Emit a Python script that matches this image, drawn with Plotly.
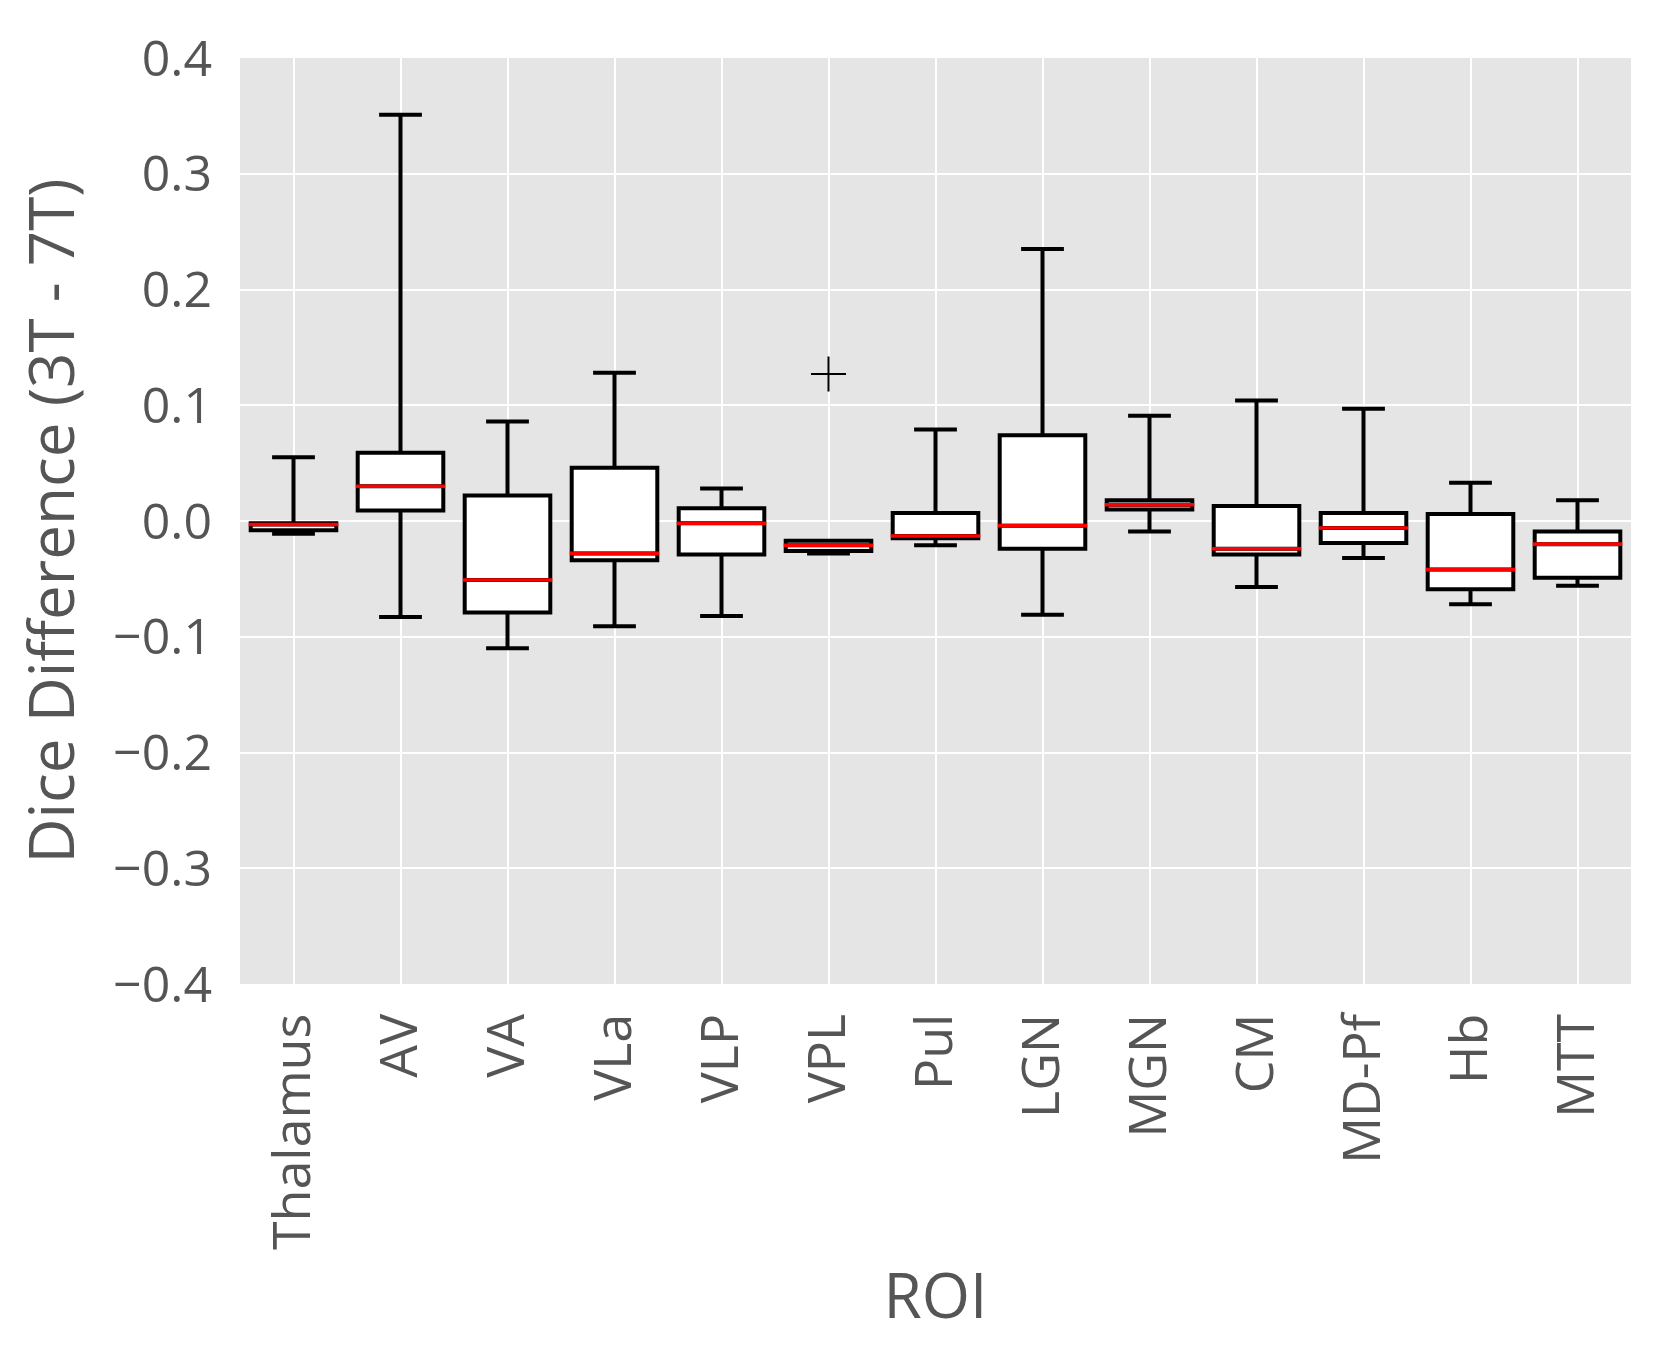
import plotly.graph_objects as go

categories = ["Thalamus", "AV", "VA", "VLa", "VLP", "VPL", "Pul", "LGN", "MGN", "CM", "MD-Pf", "Hb", "MTT"]
lower_whisker = [-0.011, -0.083, -0.110, -0.091, -0.082, -0.028, -0.021, -0.081, -0.009, -0.057, -0.032, -0.072, -0.056]
q1_vals = [-0.008, 0.009, -0.079, -0.034, -0.029, -0.026, -0.015, -0.024, 0.010, -0.029, -0.019, -0.059, -0.049]
median_vals = [-0.003, 0.030, -0.051, -0.028, -0.002, -0.021, -0.013, -0.004, 0.014, -0.024, -0.006, -0.042, -0.020]
q3_vals = [-0.002, 0.059, 0.022, 0.046, 0.011, -0.017, 0.007, 0.074, 0.018, 0.013, 0.007, 0.006, -0.009]
upper_whisker = [0.055, 0.351, 0.086, 0.128, 0.028, -0.017, 0.079, 0.235, 0.091, 0.104, 0.097, 0.033, 0.018]
outlier_cat = ["VPL"]
outlier_vals = [0.127]

y_ticks = [-0.4, -0.3, -0.2, -0.1, 0.0, 0.1, 0.2, 0.3, 0.4]

positions = list(range(len(categories)))
box_width = 0.8
median_half = box_width / 2 + 0.018
text_color = "#555555"
font_family = "'Open Sans', 'Noto Sans', sans-serif"

fig = go.Figure()
fig.add_trace(go.Box(
    x=positions,
    q1=q1_vals, median=median_vals, q3=q3_vals,
    lowerfence=lower_whisker, upperfence=upper_whisker,
    width=box_width, whiskerwidth=0.5,
    fillcolor="white",
    line=dict(color="black", width=4),
    boxpoints=False,
    showlegend=False,
    hoverinfo="skip",
))

mx, my = [], []
for p, m in zip(positions, median_vals):
    mx += [p - median_half, p + median_half, None]
    my += [m, m, None]
fig.add_trace(go.Scatter(x=mx, y=my, mode="lines",
                         line=dict(color="red", width=3.6),
                         showlegend=False, hoverinfo="skip"))

fig.add_trace(go.Scatter(
    x=[categories.index(c) for c in outlier_cat], y=outlier_vals,
    mode="markers",
    marker=dict(symbol="cross-thin", size=25, line=dict(color="black", width=2)),
    showlegend=False, hoverinfo="skip"))

fig.update_layout(
    width=1662, height=1363,
    paper_bgcolor="white", plot_bgcolor="#E5E5E5",
    margin=dict(l=232, r=39, t=50, b=387),
    font=dict(family=font_family, color=text_color, size=50),
)
fig.update_xaxes(
    range=[-0.5, len(categories) - 0.5],
    tickmode="array", tickvals=positions, ticktext=categories,
    tickangle=-90,
    showgrid=True, gridcolor="white", gridwidth=2,
    zeroline=False,
    ticks="outside", ticklen=8, tickcolor="rgba(0,0,0,0)",
    tickfont=dict(size=52, color=text_color),
    title=dict(text="ROI", font=dict(size=62, color=text_color), standoff=25),
)
fig.update_yaxes(
    range=[-0.4, 0.4],
    tickmode="array", tickvals=y_ticks, tickformat=".1f",
    showgrid=True, gridcolor="white", gridwidth=2,
    zeroline=False,
    ticks="outside", ticklen=17, tickcolor="rgba(0,0,0,0)",
    tickfont=dict(size=50, color=text_color),
    title=dict(text="Dice Difference (3T - 7T)", font=dict(size=62, color=text_color), standoff=26),
)

fig.write_html("out.html")
